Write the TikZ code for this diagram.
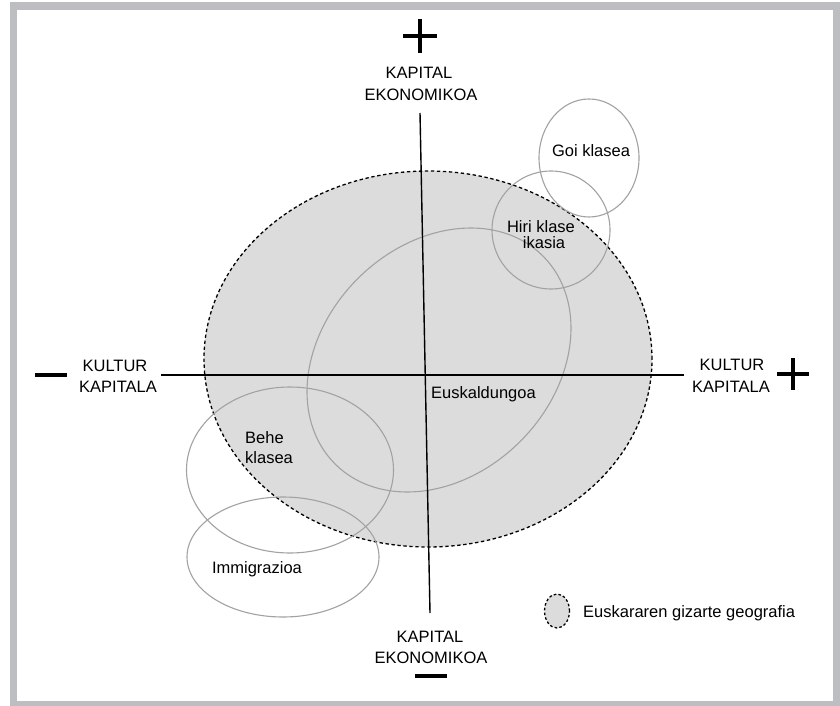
\documentclass[tikz,border=0pt]{standalone}
\usepackage{fontspec}
\setmainfont{Liberation Sans}
\definecolor{framegray}{HTML}{BDBEC2}
\definecolor{zonefill}{HTML}{DCDCDC}
\definecolor{ringgray}{HTML}{A2A2A2}
\tikzset{
  lbl/.style={inner sep=0pt, font=\fontsize{16.5}{20}\selectfont, text=black},
  ring/.style={draw=ringgray, line width=1.1pt},
  zone/.style={fill=zonefill, draw=black, line width=1.3pt, dash pattern=on 3.4pt off 2.6pt},
  axisline/.style={draw=black, line width=1.4pt},
  signbar/.style={draw=black, line width=4.6pt},
}
\begin{document}
\begin{tikzpicture}[x=1pt,y=1pt]
\useasboundingbox (0,0) rectangle (840,-706);
% frame
\fill[framegray] (10,-2) rectangle (840,-706);
\fill[white] (17,-10) rectangle (833,-701);
% big zone
\path[zone] (428,-359) ellipse [x radius=224, y radius=188];
% rings
\draw[ring] (589,-158) ellipse [x radius=50, y radius=59];
\draw[ring] (551,-230) circle [radius=59];
\draw[ring, rotate around={45:(439,-360)}] (439,-360) ellipse [x radius=147, y radius=115];
\draw[ring] (290,-470) ellipse [x radius=103.5, y radius=83];
\draw[ring] (283,-557) ellipse [x radius=96, y radius=60];
% axes
\coordinate (vtop) at (420,-113);
\coordinate (vbot) at (430,-613);
\coordinate (hleft) at (161,-375);
\coordinate (hright) at (684,-375);
\draw[axisline] (vtop) -- (vbot);
\draw[axisline] (hleft) -- (hright);
% signs
\coordinate (pt) at (420,-36);
\draw[signbar] ([xshift=-17pt]pt) -- ([xshift=17pt]pt);
\draw[signbar] ([yshift=-17pt]pt) -- ([yshift=17pt]pt);
\coordinate (pr) at (793,-374);
\draw[signbar] ([xshift=-16pt]pr) -- ([xshift=16pt]pr);
\draw[signbar] ([yshift=-16pt]pr) -- ([yshift=16pt]pr);
\coordinate (ml) at (51,-375);
\draw[signbar] ([xshift=-16pt]ml) -- ([xshift=16pt]ml);
\coordinate (mb) at (431,-676);
\draw[signbar] ([xshift=-16pt]mb) -- ([xshift=16pt]mb);
% axis labels
\node[lbl, anchor=base] (tk1) at (419,-79) {KAPITAL};
\node[lbl, anchor=base] (tk2) at (421,-101) {EKONOMIKOA};
\node[lbl, anchor=base] (bk1) at (430,-642) {KAPITAL};
\node[lbl, anchor=base] (bk2) at (431,-663) {EKONOMIKOA};
\node[lbl, anchor=base] (lk1) at (115,-371) {KULTUR};
\node[lbl, anchor=base] (lk2) at (118,-392) {KAPITALA};
\node[lbl, anchor=base] (rk1) at (732,-370) {KULTUR};
\node[lbl, anchor=base] (rk2) at (731,-392) {KAPITALA};
% group labels
\node[lbl, anchor=base] (goi) at (591,-157) {Goi klasea};
\node[lbl, anchor=base] (hiri1) at (541,-232) {Hiri klase};
\node[lbl, anchor=base] (hiri2) at (544,-248) {ikasia};
\node[lbl, anchor=base west] (eusk) at (431,-398) {Euskaldungoa};
\node[lbl, anchor=base west] (behe1) at (245,-443) {Behe};
\node[lbl, anchor=base west] (behe2) at (245,-463) {klasea};
\node[lbl, anchor=base] (immi) at (257,-573) {Immigrazioa};
% legend
\path[zone, dash pattern=on 2.6pt off 2.2pt] (557,-611) ellipse [x radius=12.5, y radius=17];
\node[lbl, anchor=base west] (leg) at (583,-617) {Euskararen gizarte geografia};
\end{tikzpicture}
\end{document}
